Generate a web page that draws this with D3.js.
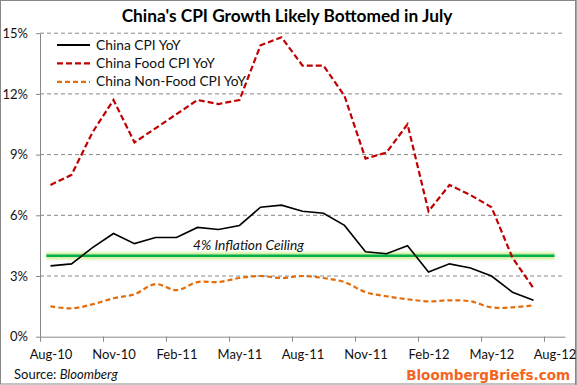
<!DOCTYPE html>
<html><head><meta charset="utf-8">
<script src="https://cdn.jsdelivr.net/npm/d3@7"></script>
<style>
body{margin:0;background:#fff;}
svg{display:block;font-family:Lato, "Open Sans", sans-serif;}
</style></head>
<body><svg id="c" width="577" height="385"></svg>
<script>
const months = ["Aug-10","Sep-10","Oct-10","Nov-10","Dec-10","Jan-11","Feb-11","Mar-11","Apr-11","May-11","Jun-11","Jul-11","Aug-11","Sep-11","Oct-11","Nov-11","Dec-11","Jan-12","Feb-12","Mar-12","Apr-12","May-12","Jun-12","Jul-12"];
const cpi = [3.5,3.6,4.4,5.1,4.6,4.9,4.9,5.4,5.3,5.5,6.4,6.5,6.2,6.1,5.5,4.2,4.1,4.5,3.2,3.6,3.4,3.0,2.2,1.8];
const foodCpi = [7.5,8.0,10.1,11.7,9.6,10.3,11.0,11.7,11.5,11.7,14.4,14.8,13.4,13.4,11.9,8.8,9.1,10.5,6.2,7.5,7.0,6.4,3.9,2.4];
const nonFoodCpi = [1.5,1.4,1.6,1.9,2.1,2.6,2.3,2.7,2.7,2.9,3.0,2.9,3.0,2.9,2.7,2.2,2.0,1.85,1.75,1.8,1.75,1.45,1.45,1.55];
const xTickLabels = ["Aug-10","Nov-10","Feb-11","May-11","Aug-11","Nov-11","Feb-12","May-12","Aug-12"];
const yTicks = [0,3,6,9,12,15];
const ceiling = 4;
const seriesNames = ["China CPI YoY","China Food CPI YoY","China Non-Food CPI YoY"];

const svg = d3.select("#c");
const L = 40, R = 565, T = 33.2, B = 336.7;
const x = d3.scaleLinear().domain([0, 25]).range([L, R]);
const y = d3.scaleLinear().domain([0, 15]).range([B, T]);

// border
svg.append("rect").attr("x",0.5).attr("y",0.5).attr("width",575).attr("height",383.5)
  .attr("fill","none").attr("stroke","#888").attr("stroke-width",1);
svg.append("line").attr("x1",576).attr("x2",576).attr("y1",0).attr("y2",385).attr("stroke","#888").attr("stroke-width",1.5);

// title
svg.append("text").attr("x",287).attr("y",22).attr("text-anchor","middle")
  .attr("font-weight","bold").attr("font-size",17.3).attr("fill","#000")
  .text("China's CPI Growth Likely Bottomed in July");

// grid
svg.append("g").selectAll("line").data(yTicks.filter(d=>d>0)).join("line")
  .attr("x1",L).attr("x2",R).attr("y1",d=>y(d)).attr("y2",d=>y(d))
  .attr("stroke","#888").attr("stroke-dasharray","4,3").attr("stroke-width",1);

// y axis
const yAxis = svg.append("g").attr("transform",`translate(${L},0)`)
  .call(d3.axisLeft(y).tickValues(yTicks).tickFormat(d=>d+"%").tickSize(4).tickSizeOuter(0));
yAxis.select(".domain").attr("stroke","#888");
yAxis.selectAll(".tick line").attr("stroke","#888");
yAxis.selectAll("text").attr("font-size",13).attr("fill","#111").attr("font-family","Lato, sans-serif").attr("x",-12);

// x axis
const xAxis = svg.append("g").attr("transform",`translate(0,${B})`)
  .call(d3.axisBottom(x).tickValues(d3.range(0,25,3)).tickFormat((d,i)=>xTickLabels[i]).tickSize(5).tickSizeOuter(0));
xAxis.select(".domain").attr("stroke","#888");
xAxis.selectAll(".tick line").attr("stroke","#888");
xAxis.selectAll("text").attr("font-size",13).attr("fill","#111").attr("font-family","Lato, sans-serif")
  .attr("dx", x(0.5)-x(0)).attr("y",13);

// ceiling line with glow
svg.append("line").attr("x1",x(0.3)).attr("x2",x(24.5)).attr("y1",y(ceiling)).attr("y2",y(ceiling))
  .attr("stroke","#e8f8cf").attr("stroke-width",9);
svg.append("line").attr("x1",x(0.3)).attr("x2",x(24.5)).attr("y1",y(ceiling)).attr("y2",y(ceiling))
  .attr("stroke","#d2f09e").attr("stroke-width",5.5);
svg.append("line").attr("x1",x(0.3)).attr("x2",x(24.5)).attr("y1",y(ceiling)).attr("y2",y(ceiling))
  .attr("stroke","#00b050").attr("stroke-width",2.5);
svg.append("text").attr("x",193).attr("y",y(ceiling)-6).attr("font-style","italic")
  .attr("font-size",13.8).attr("fill","#111").text("4% Inflation Ceiling");

const line = d3.line().x((d,i)=>x(i+0.5)).y(d=>y(d));
const smooth = d3.line().x((d,i)=>x(i+0.5)).y(d=>y(d)).curve(d3.curveCatmullRom.alpha(0.5));

svg.append("path").datum(nonFoodCpi).attr("d",smooth).attr("fill","none")
  .attr("stroke","#e46c0a").attr("stroke-width",2.2).attr("stroke-dasharray","5,3");
svg.append("path").datum(foodCpi).attr("d",line).attr("fill","none")
  .attr("stroke","#c00000").attr("stroke-width",2.2).attr("stroke-dasharray","6,3");
svg.append("path").datum(cpi).attr("d",line).attr("fill","none")
  .attr("stroke","#000").attr("stroke-width",1.6);

// legend
const legStyles = [{c:"#000",w:2,d:null},{c:"#c00000",w:2.2,d:"6,3"},{c:"#e46c0a",w:2.2,d:"5,3"}];
const lg = svg.append("g");
seriesNames.forEach((n,i)=>{
  const yy = 45 + i*18.4;
  lg.append("line").attr("x1",57).attr("x2",90).attr("y1",yy).attr("y2",yy)
    .attr("stroke",legStyles[i].c).attr("stroke-width",legStyles[i].w).attr("stroke-dasharray",legStyles[i].d);
  lg.append("text").attr("x",96).attr("y",yy+4.5).attr("font-size",13.8).attr("fill","#111").text(n);
});

// source
const src = svg.append("text").attr("x",14).attr("y",379).attr("font-size",13).attr("fill","#111");
src.append("tspan").text("Source: ");
src.append("tspan").attr("font-style","italic").text("Bloomberg");
svg.append("text").attr("x",570).attr("y",380).attr("text-anchor","end").attr("font-weight","bold")
  .attr("font-size",13.5).attr("fill","#f26522").attr("font-family","'DejaVu Sans', sans-serif").text("BloombergBriefs.com");
</script></body></html>
